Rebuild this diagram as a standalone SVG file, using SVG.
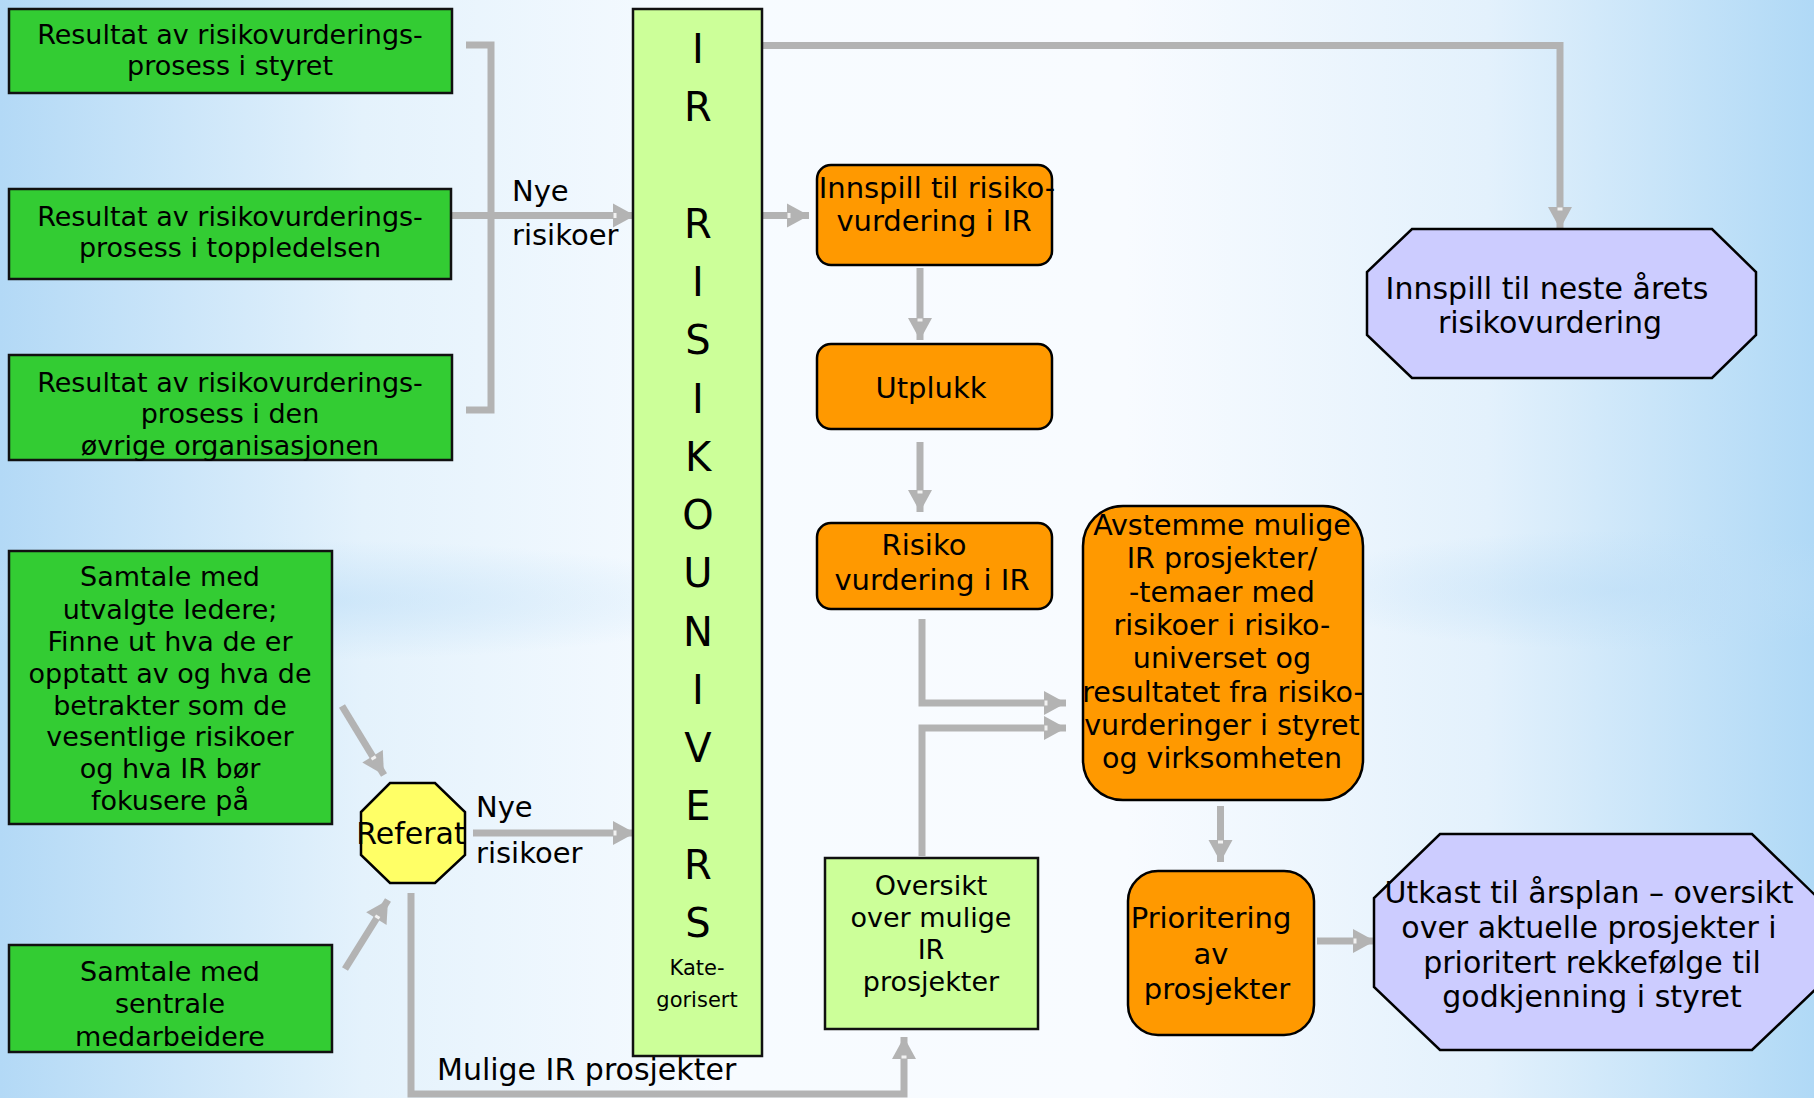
<svg xmlns="http://www.w3.org/2000/svg" width="1814" height="1098" viewBox="0 0 1814 1098">
<defs>
<linearGradient id="bg" x1="0" y1="0" x2="1" y2="0">
<stop offset="0" stop-color="#b3d9f6"/>
<stop offset="0.2" stop-color="#e4f2fc"/>
<stop offset="0.4" stop-color="#f7fbff"/>
<stop offset="0.62" stop-color="#f8fbff"/>
<stop offset="0.82" stop-color="#e3f1fc"/>
<stop offset="1" stop-color="#b0d9f6"/>
</linearGradient>
<radialGradient id="blob" cx="0.5" cy="0.5" r="0.5">
<stop offset="0" stop-color="#bddef7" stop-opacity="0.6"/>
<stop offset="1" stop-color="#bddef7" stop-opacity="0"/>
</radialGradient>
<marker id="ah" markerUnits="userSpaceOnUse" markerWidth="24" markerHeight="26" refX="22" refY="12" orient="auto" overflow="visible">
<path d="M0,0 L22,12 L0,24 Z" fill="#b3b3b3"/>
<rect x="0.5" y="9.5" width="3" height="5" fill="#f2f2f2"/>
</marker>
<style>
.t{font-family:"DejaVu Sans",Verdana,sans-serif;fill:#000;text-anchor:middle}
.s{font-family:"DejaVu Sans",Verdana,sans-serif;fill:#000}
.gr{fill:#33cc33;stroke:#111;stroke-width:2.5}
.or{fill:#ff9900;stroke:#000;stroke-width:2.5}
.lg{fill:#ccff99;stroke:#111;stroke-width:2.5}
.pu{fill:#ccccff;stroke:#000;stroke-width:2.5}
.ye{fill:#ffff66;stroke:#000;stroke-width:2.5}
.c{fill:none;stroke:#b3b3b3;stroke-width:7;stroke-linejoin:miter}
.a{marker-end:url(#ah)}
</style>
</defs>
<rect x="0" y="0" width="1814" height="1098" fill="url(#bg)"/>
<ellipse cx="300" cy="600" rx="450" ry="60" fill="url(#blob)"/>
<ellipse cx="1620" cy="590" rx="320" ry="60" fill="url(#blob)"/>

<g id="connectors">
<path class="c" d="M466,45 H491 V410 H466"/>
<path class="c a" d="M447,215.5 H635"/>
<path class="c a" d="M759,45.5 H1560 V229"/>
<path class="c a" d="M749,215.5 H809"/>
<path class="c a" d="M920,268 V340"/>
<path class="c a" d="M920,442 V512"/>
<path class="c a" d="M922,619 V703 H1066"/>
<path class="c a" d="M922,856 V728 H1066"/>
<path class="c a" d="M1220.5,806 V862"/>
<path class="c a" d="M1317,941 H1375"/>
<path class="c a" d="M342,706 L384,775"/>
<path class="c a" d="M345,969 L388,900"/>
<path class="c a" d="M473,833 H635"/>
<path class="c a" d="M411,893 V1094 H904 V1037"/>
<text class="s" x="512" y="201" font-size="29">Nye</text>
<text class="s" x="512" y="245" font-size="29">risikoer</text>
<text class="s" x="476" y="817" font-size="29">Nye</text>
<text class="s" x="476" y="863" font-size="29">risikoer</text>
<text class="s" x="437" y="1080" font-size="30">Mulige IR prosjekter</text>
</g>

<g id="n-styret">
<rect class="gr" x="9" y="9" width="443" height="84"/>
<text class="t" x="230" y="44" font-size="27">Resultat av risikovurderings-</text>
<text class="t" x="230" y="75" font-size="27">prosess i styret</text>
</g>
<g id="n-toppledelsen">
<rect class="gr" x="9" y="189" width="442" height="90"/>
<text class="t" x="230" y="226" font-size="27">Resultat av risikovurderings-</text>
<text class="t" x="230" y="257" font-size="27">prosess i toppledelsen</text>
</g>
<g id="n-organisasjonen">
<rect class="gr" x="9" y="355" width="443" height="105"/>
<text class="t" x="230" y="392" font-size="27">Resultat av risikovurderings-</text>
<text class="t" x="230" y="423" font-size="27">prosess i den</text>
<text class="t" x="230" y="455" font-size="27">øvrige organisasjonen</text>
</g>

<g id="n-risikounivers">
<rect class="lg" x="633" y="9" width="129" height="1047"/>
<g class="t" font-size="40">
<text x="698" y="63">I</text>
<text x="698" y="121">R</text>
<text x="698" y="238">R</text>
<text x="698" y="296">I</text>
<text x="698" y="354">S</text>
<text x="698" y="413">I</text>
<text x="698" y="471">K</text>
<text x="698" y="529">O</text>
<text x="698" y="587">U</text>
<text x="698" y="646">N</text>
<text x="698" y="704">I</text>
<text x="698" y="762">V</text>
<text x="698" y="820">E</text>
<text x="698" y="879">R</text>
<text x="698" y="937">S</text>
</g>
<text class="t" x="697" y="975" font-size="21">Kate-</text>
<text class="t" x="697" y="1007" font-size="21">gorisert</text>
</g>

<g id="n-innspill">
<rect class="or" x="817" y="165" width="235" height="100" rx="14"/>
<text class="t" x="937" y="198" font-size="29">Innspill til risiko-</text>
<text class="t" x="934" y="231" font-size="29">vurdering i IR</text>
</g>
<g id="n-utplukk">
<rect class="or" x="817" y="344" width="235" height="85" rx="14"/>
<text class="t" x="931" y="398" font-size="29">Utplukk</text>
</g>
<g id="n-risiko">
<rect class="or" x="817" y="523" width="235" height="86" rx="14"/>
<text class="t" x="924" y="555" font-size="29">Risiko</text>
<text class="t" x="932" y="590" font-size="29">vurdering i IR</text>
</g>

<g id="n-avstemme">
<rect class="or" x="1083" y="506" width="280" height="294" rx="40"/>
<g class="t" font-size="28.5">
<text x="1222" y="535">Avstemme mulige</text>
<text x="1222" y="568">IR prosjekter/</text>
<text x="1222" y="602">-temaer med</text>
<text x="1222" y="635">risikoer i risiko-</text>
<text x="1222" y="668">universet og</text>
<text x="1223" y="702">resultatet fra risiko-</text>
<text x="1222" y="735">vurderinger i styret</text>
<text x="1222" y="768">og virksomheten</text>
</g>
</g>

<g id="n-prioritering">
<rect class="or" x="1128" y="871" width="186" height="164" rx="30"/>
<text class="t" x="1211" y="928" font-size="29">Prioritering</text>
<text class="t" x="1211" y="964" font-size="29">av</text>
<text class="t" x="1217" y="999" font-size="29">prosjekter</text>
</g>

<g id="n-oversikt">
<rect class="lg" x="825" y="858" width="213" height="171"/>
<text class="t" x="931" y="895" font-size="27">Oversikt</text>
<text class="t" x="931" y="927" font-size="27">over mulige</text>
<text class="t" x="931" y="959" font-size="27">IR</text>
<text class="t" x="931" y="991" font-size="27">prosjekter</text>
</g>

<g id="n-neste-aar">
<polygon class="pu" points="1412,229 1712,229 1756,272 1756,335 1712,378 1412,378 1367,335 1367,272"/>
<text class="t" x="1547" y="299" font-size="30">Innspill til neste årets</text>
<text class="t" x="1550" y="333" font-size="30">risikovurdering</text>
</g>

<g id="n-utkast">
<polygon class="pu" points="1440,834 1752,834 1818,898 1818,987 1752,1050 1440,1050 1374,987 1374,898"/>
<g class="t" font-size="30">
<text x="1589" y="903">Utkast til årsplan – oversikt</text>
<text x="1589" y="938">over aktuelle prosjekter i</text>
<text x="1592" y="973">prioritert rekkefølge til</text>
<text x="1592" y="1007">godkjenning i styret</text>
</g>
</g>

<g id="n-referat">
<polygon class="ye" points="390,783 435,783 465,812 465,855 435,883 390,883 361,855 361,812"/>
<text class="t" x="411" y="844" font-size="30">Referat</text>
</g>

<g id="n-samtale-ledere">
<rect class="gr" x="9" y="551" width="323" height="273"/>
<g class="t" font-size="27">
<text x="170" y="586">Samtale med</text>
<text x="170" y="619">utvalgte ledere;</text>
<text x="170" y="651">Finne ut hva de er</text>
<text x="170" y="683">opptatt av og hva de</text>
<text x="170" y="715">betrakter som de</text>
<text x="170" y="746">vesentlige risikoer</text>
<text x="170" y="778">og hva IR bør</text>
<text x="170" y="810">fokusere på</text>
</g>
</g>

<g id="n-samtale-medarbeidere">
<rect class="gr" x="9" y="945" width="323" height="107"/>
<text class="t" x="170" y="981" font-size="27">Samtale med</text>
<text class="t" x="170" y="1013" font-size="27">sentrale</text>
<text class="t" x="170" y="1046" font-size="27">medarbeidere</text>
</g>
</svg>
